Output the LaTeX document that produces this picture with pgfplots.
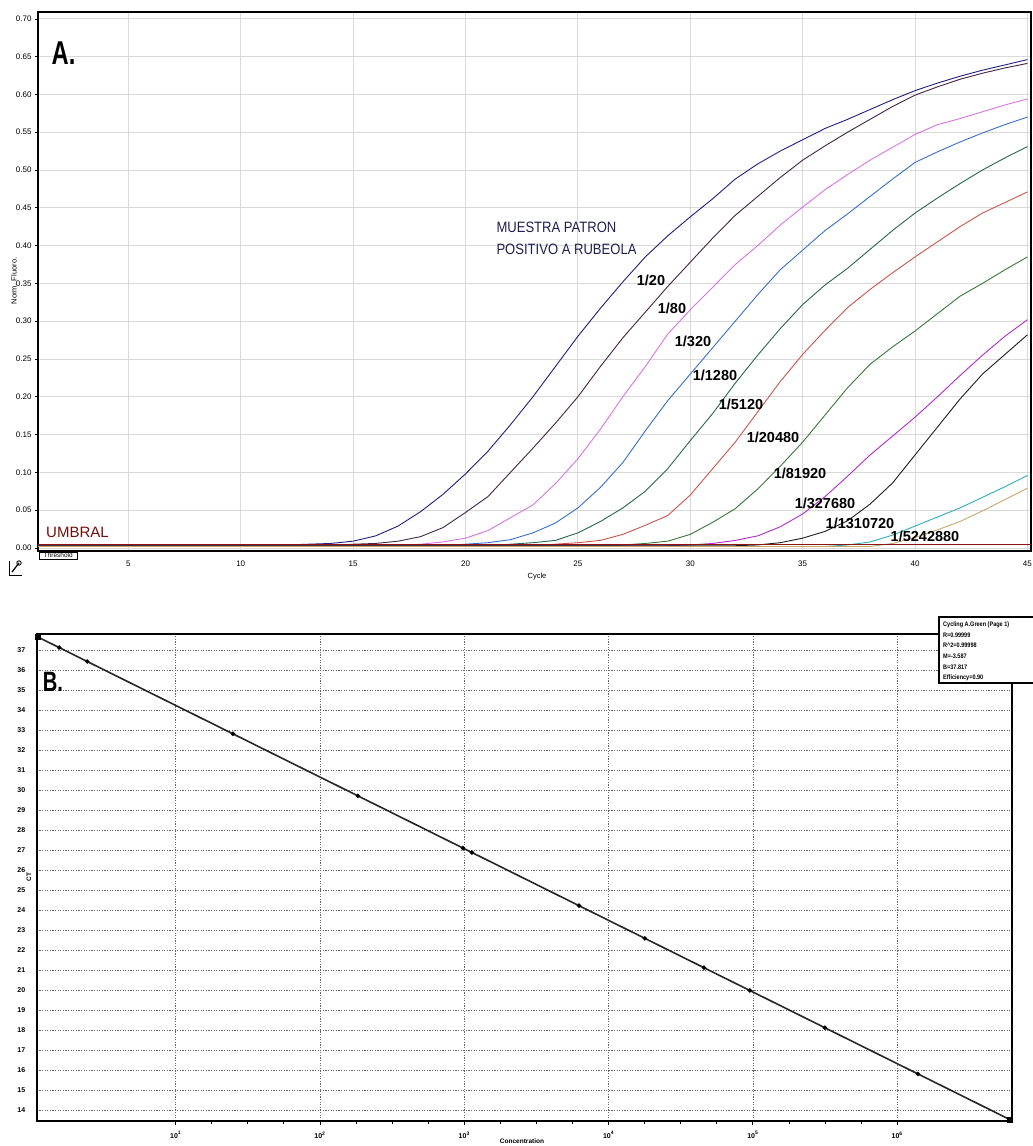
\documentclass[border=0pt]{standalone}
\usepackage{fontspec}
\setmainfont{Liberation Sans}
\usepackage{pgfplots}
\pgfplotsset{compat=1.18}
\usepackage{graphicx}

\definecolor{c20}{RGB}{30,30,130}
\definecolor{c80}{RGB}{70,35,70}
\definecolor{c320}{RGB}{215,115,225}
\definecolor{c1280}{RGB}{55,110,200}
\definecolor{c5120}{RGB}{40,100,85}
\definecolor{c20480}{RGB}{200,85,75}
\definecolor{c81920}{RGB}{55,120,55}
\definecolor{c327680}{RGB}{175,45,200}
\definecolor{c1310720}{RGB}{30,30,30}
\definecolor{cteal}{RGB}{45,175,185}
\definecolor{ctan}{RGB}{200,165,105}
\definecolor{cthr}{RGB}{140,20,20}
\definecolor{cumbral}{RGB}{115,15,15}
\definecolor{cmuestra}{RGB}{30,30,80}

\begin{document}
\begin{tikzpicture}[x=1pt,y=1pt]
\useasboundingbox (0,0) rectangle (1033,-1146);
\clip (0,0) rectangle (1033,-1146);

% ---------------- Panel A ----------------
\begin{axis}[
  at={(38pt,-12pt)}, anchor=north west,
  width=993pt, height=539pt, scale only axis,
  xmin=0.98, xmax=45.16, ymin=-0.004, ymax=0.709,
  xtick={5,10,...,45},
  ytick={0,0.05,0.1,0.15,0.2,0.25,0.3,0.35,0.4,0.45,0.5,0.55,0.6,0.65,0.7},
  yticklabel style={/pgf/number format/.cd,fixed,fixed zerofill,precision=2},
  scaled y ticks=false,
  /pgf/number format/assume math mode=true,
  grid=major, grid style={draw=black!15, line width=0.8pt},
  axis line style={black, line width=1.3pt},
  tick label style={font=\fontsize{8}{9}\selectfont},
  xtick style={draw=none},
  ytick style={black, line width=0.6pt},
  tick align=outside, major tick length=3pt,
  xtick pos=bottom, ytick pos=left,
  xticklabel style={yshift=-3pt},
]
\addplot[c20, line width=0.9pt] coordinates {(1,0.004)(5,0.004)(10,0.004)(12,0.004)(13,0.005)(14,0.006)(15,0.009)(16,0.016)(17,0.029)(18,0.048)(19,0.071)(20,0.098)(21,0.128)(22,0.163)(23,0.200)(24,0.240)(25,0.280)(26,0.317)(27,0.352)(28,0.385)(29,0.413)(30,0.438)(31,0.462)(32,0.488)(33,0.508)(34,0.525)(35,0.540)(36,0.555)(37,0.567)(38,0.580)(39,0.593)(40,0.605)(41,0.615)(42,0.624)(43,0.632)(44,0.639)(45,0.646)};
\addplot[c80, line width=0.9pt] coordinates {(1,0.003)(14,0.003)(15,0.005)(16,0.006)(17,0.009)(18,0.015)(19,0.027)(20,0.047)(21,0.068)(22,0.100)(23,0.132)(24,0.165)(25,0.200)(26,0.240)(27,0.278)(28,0.312)(29,0.346)(30,0.378)(31,0.410)(32,0.440)(33,0.465)(34,0.490)(35,0.513)(36,0.532)(37,0.550)(38,0.567)(39,0.584)(40,0.599)(41,0.610)(42,0.620)(43,0.628)(44,0.635)(45,0.641)};
\addplot[c320, line width=0.9pt] coordinates {(1,0.003)(17,0.003)(18,0.005)(19,0.008)(20,0.013)(21,0.023)(22,0.040)(23,0.057)(24,0.085)(25,0.118)(26,0.157)(27,0.200)(28,0.240)(29,0.283)(30,0.315)(31,0.345)(32,0.375)(33,0.400)(34,0.427)(35,0.451)(36,0.474)(37,0.494)(38,0.513)(39,0.530)(40,0.547)(41,0.560)(42,0.568)(43,0.577)(44,0.586)(45,0.594)};
\addplot[c1280, line width=0.9pt] coordinates {(1,0.003)(19,0.003)(20,0.005)(21,0.007)(22,0.011)(23,0.020)(24,0.033)(25,0.053)(26,0.080)(27,0.113)(28,0.155)(29,0.195)(30,0.230)(31,0.265)(32,0.300)(33,0.335)(34,0.368)(35,0.394)(36,0.420)(37,0.442)(38,0.465)(39,0.488)(40,0.510)(41,0.524)(42,0.537)(43,0.549)(44,0.560)(45,0.570)};
\addplot[c5120, line width=0.9pt] coordinates {(1,0.003)(21,0.003)(22,0.005)(23,0.007)(24,0.010)(25,0.020)(26,0.035)(27,0.053)(28,0.075)(29,0.105)(30,0.142)(31,0.178)(32,0.218)(33,0.255)(34,0.290)(35,0.322)(36,0.348)(37,0.370)(38,0.395)(39,0.420)(40,0.443)(41,0.463)(42,0.482)(43,0.500)(44,0.516)(45,0.531)};
\addplot[c20480, line width=0.9pt] coordinates {(1,0.003)(23,0.003)(24,0.005)(25,0.007)(26,0.010)(27,0.018)(28,0.030)(29,0.043)(30,0.070)(31,0.105)(32,0.140)(33,0.180)(34,0.220)(35,0.256)(36,0.288)(37,0.318)(38,0.342)(39,0.364)(40,0.385)(41,0.405)(42,0.425)(43,0.443)(44,0.457)(45,0.471)};
\addplot[c81920, line width=0.9pt] coordinates {(1,0.003)(26,0.003)(27,0.004)(28,0.006)(29,0.009)(30,0.018)(31,0.034)(32,0.052)(33,0.078)(34,0.108)(35,0.140)(36,0.176)(37,0.212)(38,0.243)(39,0.266)(40,0.287)(41,0.310)(42,0.333)(43,0.350)(44,0.368)(45,0.385)};
\addplot[c327680, line width=0.9pt] coordinates {(1,0.003)(29,0.003)(30,0.004)(31,0.006)(32,0.010)(33,0.016)(34,0.028)(35,0.045)(36,0.068)(37,0.095)(38,0.123)(39,0.148)(40,0.173)(41,0.200)(42,0.228)(43,0.255)(44,0.280)(45,0.302)};
\addplot[c1310720, line width=0.9pt] coordinates {(1,0.003)(32,0.003)(33,0.004)(34,0.007)(35,0.013)(36,0.022)(37,0.036)(38,0.058)(39,0.086)(40,0.123)(41,0.160)(42,0.197)(43,0.230)(44,0.256)(45,0.282)};
\addplot[cteal, line width=0.9pt] coordinates {(1,0.002)(35,0.002)(36,0.002)(37,0.004)(38,0.008)(39,0.017)(40,0.029)(41,0.041)(42,0.053)(43,0.067)(44,0.081)(45,0.096)};
\addplot[ctan, line width=0.9pt] coordinates {(1,0.002)(37,0.002)(38,0.002)(39,0.006)(40,0.014)(41,0.024)(42,0.035)(43,0.049)(44,0.064)(45,0.079)};
\addplot[cthr, line width=1pt] coordinates {(0.98,0.005)(45.16,0.005)};
\end{axis}

% Panel A annotations
\node at (63.5,-53) {\scalebox{0.72}[1]{\fontsize{33}{33}\selectfont\bfseries A.}};
\node[anchor=west, text=cmuestra] at (493,-227.5) {\scalebox{0.87}[1]{\fontsize{15}{15}\selectfont MUESTRA PATRON}};
\node[anchor=west, text=cmuestra] at (493,-249) {\scalebox{0.87}[1]{\fontsize{15}{15}\selectfont POSITIVO A RUBEOLA}};
\begin{scope}[every node/.style={font=\fontsize{14.5}{15}\selectfont\bfseries, inner sep=0pt}]
\node at (651,-280) {1/20};
\node at (672,-308) {1/80};
\node at (693,-341) {1/320};
\node at (715,-375) {1/1280};
\node at (741,-404) {1/5120};
\node at (773,-437) {1/20480};
\node at (800,-473) {1/81920};
\node at (825,-503) {1/327680};
\node at (860,-523) {1/1310720};
\node at (925,-536) {1/5242880};
\end{scope}
\node[text=cumbral, anchor=west, inner sep=0pt] at (46,-532.5) {\fontsize{15}{15}\selectfont UMBRAL};
\node[draw, line width=0.5pt, inner sep=1pt, minimum width=38pt, font=\fontsize{6.5}{7}\selectfont, anchor=north west] at (39,-552) {Threshold};
\node[font=\fontsize{7.5}{8}\selectfont] at (537,-577) {Cycle};
\node[rotate=90, font=\fontsize{7.5}{8}\selectfont] at (14,-281) {Norm. Fluoro.};
% small tool icon
\draw[line width=0.8pt] (9,-575) -- (22,-575);
\draw[line width=0.8pt] (9,-575) -- (9,-561);
\draw[line width=1.2pt] (12,-572) -- (19,-563);
\draw[line width=0.9pt] (19,-563) circle (2.2pt);

% ---------------- Panel B ----------------
\begin{axis}[
  at={(36.7pt,-634pt)}, anchor=north west,
  width=975.3pt, height=487pt, scale only axis,
  xmin=0.037, xmax=6.796, ymin=13.45, ymax=37.8,
  xtick={1,2,3,4,5,6},
  xticklabels={10\textsuperscript{1},10\textsuperscript{2},10\textsuperscript{3},10\textsuperscript{4},10\textsuperscript{5},10\textsuperscript{6}},
  minor x tick num=3,
  ytick={14,15,...,37},
  /pgf/number format/assume math mode=true,
  grid=major, grid style={draw=black!60, dash pattern=on 1.2pt off 1.4pt, line width=0.7pt},
  axis line style={black, line width=2pt},
  tick label style={font=\fontsize{7}{8}\selectfont\bfseries},
  ytick style={draw=none},
  xtick style={black, line width=0.8pt},
  xtick pos=bottom, tick align=outside,
  major tick length=4pt, minor tick length=3pt,
  xticklabel style={yshift=-3pt},
  yticklabel style={xshift=-4pt},
]
\addplot[black!85, line width=1.6pt, mark=*, mark size=1.3pt, mark options={fill=black, draw=black}] coordinates {(0.041,37.665)(0.193,37.121)(0.387,36.426)(1.397,32.808)(2.263,29.706)(2.991,27.098)(3.053,26.876)(3.795,24.218)(4.252,22.581)(4.661,21.116)(4.979,19.977)(5.499,18.114)(6.144,15.804)(6.782,13.519)};
\addplot[only marks, mark=square*, mark size=2.5pt, black] coordinates {(0.041,37.665)(6.782,13.519)};
\end{axis}

\node at (53,-682) {\scalebox{0.72}[1]{\fontsize{28}{28}\selectfont\bfseries B.}};
\draw[line width=1.2pt, fill=white] (939,-617) rectangle (1045,-683);
\begin{scope}[every node/.style={anchor=west, inner sep=0pt, font=\fontsize{6.5}{7}\selectfont\bfseries}]
\node at (943,-625) {\scalebox{0.85}[1]{Cycling A.Green (Page 1)}};
\node at (943,-635) {\scalebox{0.85}[1]{R=0.99999}};
\node at (943,-645.5) {\scalebox{0.85}[1]{R\textasciicircum 2=0.99998}};
\node at (943,-656) {\scalebox{0.85}[1]{M=-3.587}};
\node at (943,-667) {\scalebox{0.85}[1]{B=37.817}};
\node at (943,-677.5) {\scalebox{0.85}[1]{Efficiency=0.90}};
\end{scope}
\node[rotate=90, font=\fontsize{6.5}{7}\selectfont\bfseries] at (29,-877) {CT};
\node[font=\fontsize{6.5}{7}\selectfont\bfseries] at (522,-1141) {Concentration};
\end{tikzpicture}
\end{document}
